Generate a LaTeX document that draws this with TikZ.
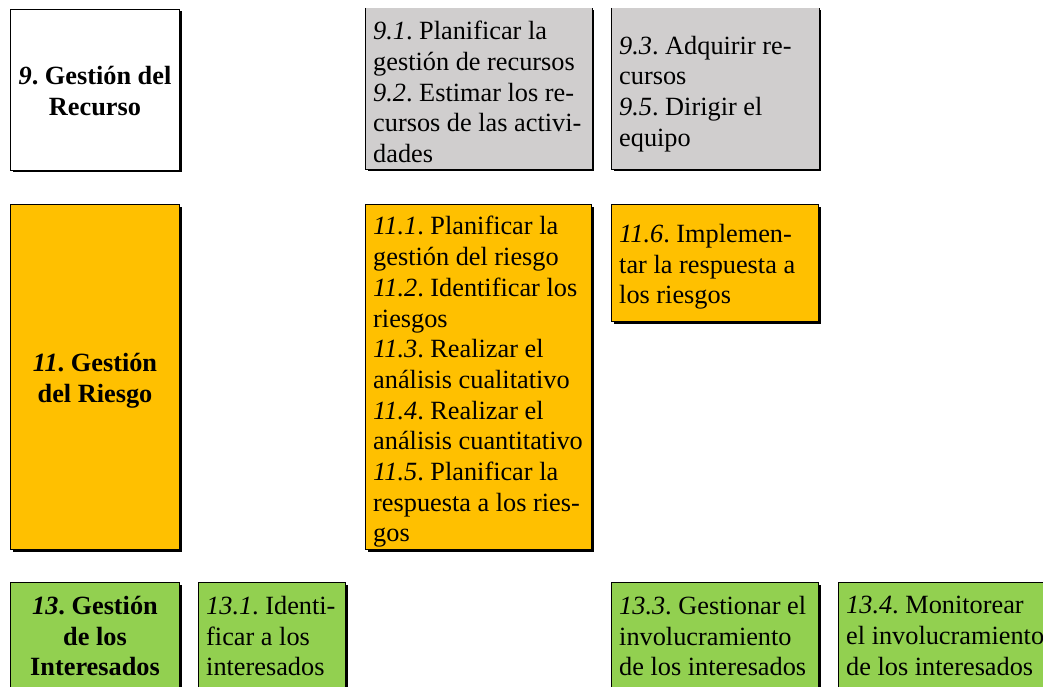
\documentclass[tikz,border=0pt]{standalone}
\usepackage{fontspec}
\setmainfont{Liberation Serif}
\usetikzlibrary{shadows}
\definecolor{gris}{HTML}{D0CECE}
\definecolor{naranja}{HTML}{FFC000}
\definecolor{verde}{HTML}{92D050}
\begin{document}
\frenchspacing
\begin{tikzpicture}[x=1pt,y=-1pt,
  cell/.style={anchor=north west, draw=black, line width=1pt, inner sep=0pt,
    drop shadow={shadow xshift=2pt, shadow yshift=-2pt, fill=black, opacity=1}},
  opentop/.style={draw=none},
  txt/.style={anchor=west, align=left, inner sep=0pt,
    font=\fontsize{26.3}{30.7}\selectfont},
  ttl/.style={anchor=center, align=center, inner sep=0pt,
    font=\fontsize{26.3}{30.7}\selectfont\bfseries},
  low/.style={yshift=-4pt}]
\useasboundingbox (0,0) rectangle (1043,687);
\clip (0,0) rectangle (1043,687);

% 9. Gestion del Recurso
\node[cell, fill=white, minimum width=169pt, minimum height=161pt] (g9) at (10,9) {};
\node[ttl, yshift=-1pt] (g9t) at (g9.center) {\textit{9}. Gestión del\\Recurso};

\node[cell, opentop, fill=gris, minimum width=226pt, minimum height=161pt] (p91) at (365,8) {};
\draw[line width=1pt] (p91.north west) -- (p91.south west) -- (p91.south east) -- (p91.north east);
\node[txt, yshift=-3pt] (p91t) at ([xshift=8pt]p91.west)
  {\textit{9.1}. Planificar la\\gestión de recursos\\\textit{9.2}. Estimar los re-\\cursos de las activi-\\dades};

\node[cell, opentop, fill=gris, minimum width=207pt, minimum height=161pt] (p93) at (611,8) {};
\draw[line width=1pt] (p93.north west) -- (p93.south west) -- (p93.south east) -- (p93.north east);
\node[txt, yshift=-5pt] (p93t) at ([xshift=8pt]p93.west)
  {\textit{9.3}. Adquirir re-\\cursos\\\textit{9.5}. Dirigir el\\equipo};

% 11. Gestion del Riesgo
\node[cell, fill=naranja, minimum width=169pt, minimum height=345pt] (g11) at (10,204) {};
\node[ttl, low] (g11t) at (g11.center) {\textit{11}. Gestión\\del Riesgo};

\node[cell, fill=naranja, minimum width=226pt, minimum height=345pt] (p111) at (365,204) {};
\node[txt, yshift=-5pt] (p111t) at ([xshift=8pt]p111.west)
  {\textit{11.1}. Planificar la\\gestión del riesgo\\\textit{11.2}. Identificar los\\riesgos\\\textit{11.3}. Realizar el\\análisis cualitativo\\\textit{11.4}. Realizar el\\análisis cuantitativo\\\textit{11.5}. Planificar la\\respuesta a los ries-\\gos};

\node[cell, fill=naranja, minimum width=207pt, minimum height=117pt] (p116) at (611,204) {};
\node[txt, low] (p116t) at ([xshift=8pt]p116.west)
  {\textit{11.6}. Implemen-\\tar la respuesta a\\los riesgos};

% 13. Gestion de los Interesados
\node[cell, fill=verde, minimum width=169pt, minimum height=107pt] (g13) at (10,582) {};
\node[ttl] (g13t) at (g13.center) {\textit{13}. Gestión\\de los\\Interesados};

\node[cell, fill=verde, minimum width=147pt, minimum height=107pt] (p131) at (198,582) {};
\node[txt] (p131t) at ([xshift=8pt]p131.west)
  {\textit{13.1}. Identi-\\ficar a los\\interesados};

\node[cell, fill=verde, minimum width=207pt, minimum height=107pt] (p133) at (611,582) {};
\node[txt] (p133t) at ([xshift=8pt]p133.west)
  {\textit{13.3}. Gestionar el\\involucramiento\\de los interesados};

\node[cell, fill=verde, minimum width=207pt, minimum height=107pt] (p134) at (838,582) {};
\node[txt] (p134t) at ([xshift=8pt]p134.west)
  {\textit{13.4}. Monitorear\\el involucramiento\\de los interesados};
\end{tikzpicture}
\end{document}
